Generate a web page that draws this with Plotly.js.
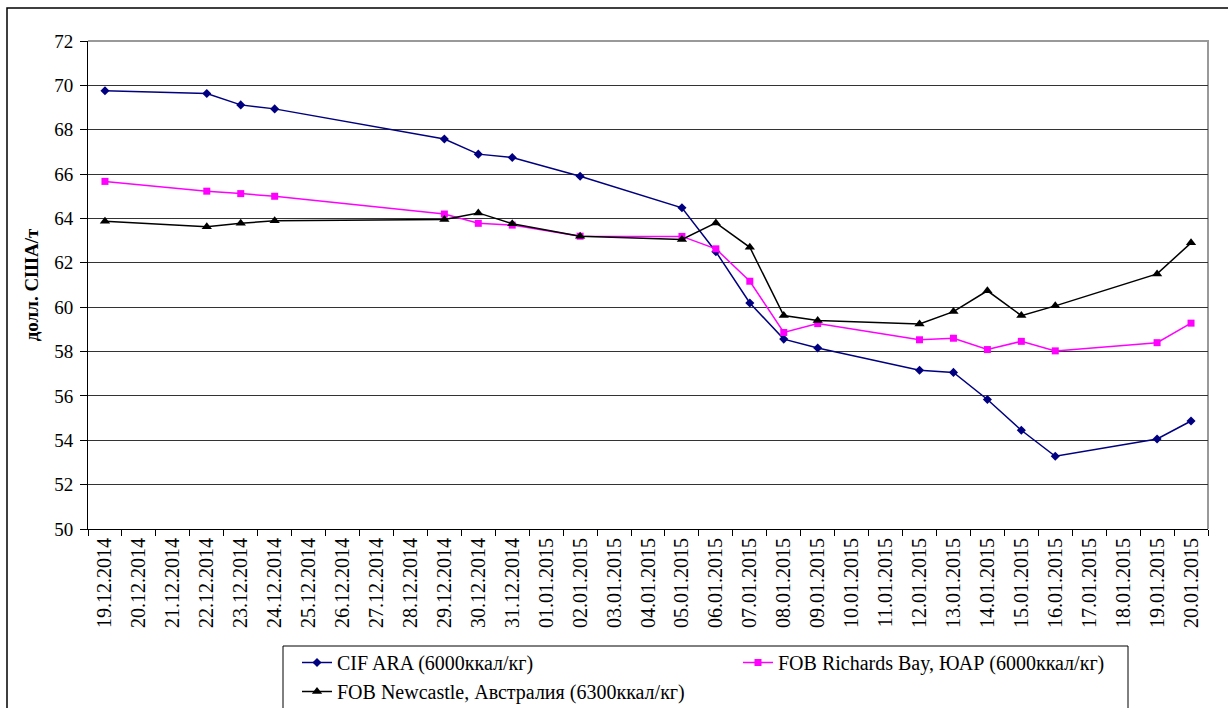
<!DOCTYPE html>
<html><head><meta charset="utf-8">
<script src="https://cdn.plot.ly/plotly-3.0.1.min.js"></script>
<style>html,body{margin:0;padding:0;background:#fff;overflow:hidden;} #chart{width:1228px;height:708px;}</style>
</head><body><div id="chart"></div>
<script>
const categories = ['19.12.2014','20.12.2014','21.12.2014','22.12.2014','23.12.2014','24.12.2014','25.12.2014','26.12.2014','27.12.2014','28.12.2014','29.12.2014','30.12.2014','31.12.2014','01.01.2015','02.01.2015','03.01.2015','04.01.2015','05.01.2015','06.01.2015','07.01.2015','08.01.2015','09.01.2015','10.01.2015','11.01.2015','12.01.2015','13.01.2015','14.01.2015','15.01.2015','16.01.2015','17.01.2015','18.01.2015','19.01.2015','20.01.2015'];
const obsDates = ['19.12.2014','22.12.2014','23.12.2014','24.12.2014','29.12.2014','30.12.2014','31.12.2014','02.01.2015','05.01.2015','06.01.2015','07.01.2015','08.01.2015','09.01.2015','12.01.2015','13.01.2015','14.01.2015','15.01.2015','16.01.2015','19.01.2015','20.01.2015'];
const cifAra = [69.76,69.63,69.12,68.94,67.58,66.9,66.75,65.9,64.48,62.5,60.19,58.56,58.16,57.16,57.06,55.84,54.45,53.28,54.06,54.87];
const fobRichardsBay = [65.67,65.23,65.12,65.0,64.2,63.78,63.7,63.2,63.19,62.63,61.17,58.86,59.26,58.53,58.6,58.09,58.46,58.03,58.4,59.28];
const fobNewcastle = [63.87,63.63,63.78,63.9,63.95,64.25,63.76,63.2,63.05,63.8,62.7,59.62,59.4,59.24,59.8,60.74,59.62,60.06,61.5,62.9];
const seriesNames = ['CIF ARA (6000ккал/кг)','FOB Richards Bay, ЮАР (6000ккал/кг)','FOB Newcastle, Австралия (6300ккал/кг)'];
const yTitle = 'долл. США/т';

function fill(vals){ return categories.map(d => { const i = obsDates.indexOf(d); return i >= 0 ? vals[i] : null; }); }

const F = 'Liberation Serif';
const traces = [
  {x: categories, y: fill(cifAra), name: seriesNames[0], type:'scatter', mode:'lines+markers', connectgaps:true,
   line:{color:'#000080', width:1.5}, marker:{symbol:'diamond', size:7, color:'#000080'}},
  {x: categories, y: fill(fobRichardsBay), name: seriesNames[1], type:'scatter', mode:'lines+markers', connectgaps:true,
   line:{color:'#FF00FF', width:1.5}, marker:{symbol:'square', size:7, color:'#FF00FF'}},
  {x: categories, y: fill(fobNewcastle), name: seriesNames[2], type:'scatter', mode:'lines+markers', connectgaps:true,
   line:{color:'#000000', width:1.5}, marker:{symbol:'triangle-up', size:9, color:'#000000'}}
];
const l=88, r=20, t=41, b=179, W=1228, H=708;
const pw = W-l-r, ph = H-t-b;
const px = v => (v-l)/pw;
const py = v => (H-b-v)/ph;
const layout = {
  width: W, height: H,
  margin:{l:l, r:r, t:t, b:b, pad:0, autoexpand:false},
  paper_bgcolor:'#fff', plot_bgcolor:'#fff',
  font:{family:F, color:'#000', size:18},
  showlegend:true,
  legend:{orientation:'h', x:px(297), xanchor:'left', y:py(643), yanchor:'top', entrywidth:396,
    font:{family:F, size:20, color:'#000'}, bgcolor:'rgba(0,0,0,0)', borderwidth:0, traceorder:'normal'},
  xaxis:{type:'category', categoryorder:'array', categoryarray:categories, range:[-0.5, categories.length-0.5],
    automargin:false, showgrid:false, showline:true, linecolor:'#000', linewidth:1, ticks:'outside', ticklen:6, tickcolor:'#000',
    tickson:'boundaries', tickangle:-90, tickfont:{family:F, size:20, color:'#000'}, zeroline:false, fixedrange:true},
  yaxis:{range:[50,72], dtick:2, tick0:50, showgrid:true, gridcolor:'#333', gridwidth:1, automargin:false,
    showline:true, linecolor:'#000', linewidth:1, ticks:'outside', ticklen:7, tickcolor:'#000', ticklabelstandoff:3,
    tickfont:{family:F, size:19, color:'#000'}, zeroline:false, fixedrange:true,
    title:{text:'<b>'+yTitle+'</b>', font:{family:F, size:19, color:'#000'}, standoff:10}},
  shapes:[
    {type:'path', xref:'paper', yref:'paper', path:`M0,1 L1,1 L1,0`, line:{color:'#999', width:2}, layer:'below'},
    {type:'rect', xref:'paper', yref:'paper', x0:px(283), x1:px(1128), y0:py(646), y1:py(720), line:{color:'#000', width:1}, fillcolor:'rgba(0,0,0,0)'},
    {type:'path', xref:'paper', yref:'paper', path:`M${px(7)},${py(720)} L${px(7)},${py(8)} L${px(1240)},${py(8)}`, line:{color:'#000', width:1.5}}
  ]
};
Plotly.newPlot('chart', traces, layout, {staticPlot:true, displayModeBar:false});
</script></body></html>
